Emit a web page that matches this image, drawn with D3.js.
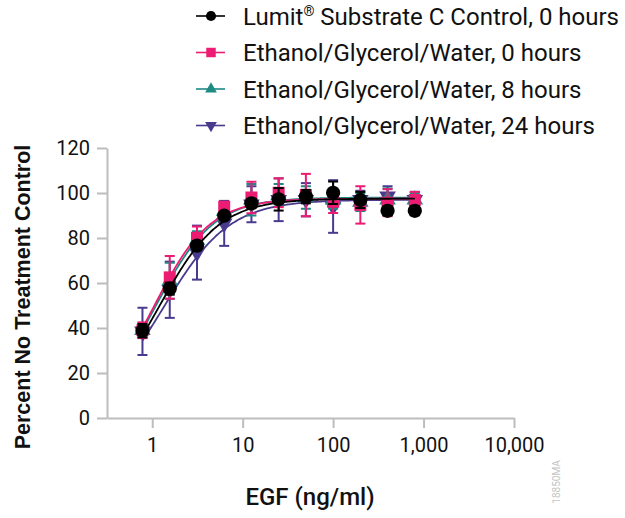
<!DOCTYPE html>
<html>
<head>
<meta charset="utf-8">
<script src="https://cdn.jsdelivr.net/npm/d3@7"></script>
<style>
  body { margin: 0; background: #fff; }
  svg { display: block; }
  .tick text { font-family: Roboto, sans-serif; font-size: 20px; fill: #111; }
  .legend text { font-family: Roboto, sans-serif; font-size: 24px; fill: #111; }
</style>
</head>
<body>
<svg id="chart" width="625" height="518"></svg>
<script>
/**
 * Data.
 */
const conc = [0.78, 1.5625, 3.125, 6.25, 12.5, 25, 50, 100, 200, 400, 800];

const controlMean = [38.8, 57.5, 76.6, 89.9, 95.4, 97.2, 98.4, 100.1, 96.9, 92.1, 92.1];
const controlErr  = [3, 2.7, 2, 1.5, 2, 5, 3, 5, 3.6, 2, 2];

const egw0Mean = [39, 62.5, 80.1, 93.9, 98, 100.1, 99.1, 96.1, 94.7, 95.7, 96.9];
const egw0Err  = [3.5, 9.5, 5, 2, 7, 6.4, 9.4, 5, 8.3, 6, 3.6];

const egw8Mean = [39, 61, 79, 92, 97, 99, 98, 97, 96, 97, 97];
const egw8Err  = [3, 8, 4, 2, 7, 5, 5, 4, 4, 5, 3];

const egw24Mean = [38.5, 57, 73.5, 86.5, 95, 97, 97, 94, 97, 98.5, 97];
const egw24Err  = [10.5, 12.5, 12, 10, 8, 9.5, 7.4, 11.7, 4, 4.5, 3.5];

// 4PL fit parameters: bottom, top, EC50, hill
const controlFit = [2, 97.5, 1.2, 1.3];
const egw0Fit    = [2, 97.5, 1.05, 1.4];
const egw8Fit    = [2, 98, 1.1, 1.35];
const egw24Fit   = [2, 97, 1.35, 1.2];

const xTicks = [1, 10, 100, 1000, 10000];
const yTicks = [0, 20, 40, 60, 80, 100, 120];

const legendLabels = [
    ['Lumit', '®', ' Substrate C Control, 0 hours'],
    ['Ethanol/Glycerol/Water, 0 hours'],
    ['Ethanol/Glycerol/Water, 8 hours'],
    ['Ethanol/Glycerol/Water, 24 hours']
];

/**
 * Series config (drawn bottom to top).
 */
const series = [
    { key: 'egw24', mean: egw24Mean, err: egw24Err, fit: egw24Fit, color: '#4a3a8e', symbol: 'down', legend: 3 },
    { key: 'egw8', mean: egw8Mean, err: egw8Err, fit: egw8Fit, color: '#1d8a84', symbol: 'up', legend: 2 },
    { key: 'egw0', mean: egw0Mean, err: egw0Err, fit: egw0Fit, color: '#ec1c73', symbol: 'square', legend: 1 },
    { key: 'control', mean: controlMean, err: controlErr, fit: controlFit, color: '#000', symbol: 'circle', legend: 0 }
];

const svg = d3.select('#chart');

const x = d3.scaleLog().domain([Math.pow(10, -0.5), 10000]).range([107, 514]);
const y = d3.scaleLinear().domain([0, 120]).range([418, 148]);

/**
 * Axes.
 */
const axisColor = '#bdbdbd';

const yAxis = svg.append('g')
    .attr('transform', 'translate(107,0)')
    .call(d3.axisLeft(y).tickValues(yTicks).tickSize(10).tickSizeOuter(0).tickPadding(7));

const xAxis = svg.append('g')
    .attr('transform', 'translate(0,418)')
    .call(d3.axisBottom(x).tickValues(xTicks).tickFormat(d3.format(',')).tickSize(10).tickSizeOuter(0).tickPadding(10));

[xAxis, yAxis].forEach(g => {
    g.selectAll('.domain, .tick line').attr('stroke', axisColor).attr('stroke-width', 2);
    g.selectAll('text').attr('font-family', null).attr('font-size', null);
});

svg.append('text')
    .attr('transform', 'translate(30,297) rotate(-90)')
    .attr('text-anchor', 'middle')
    .attr('font-family', '"Liberation Sans", Arial, sans-serif')
    .attr('font-weight', 'bold')
    .attr('font-size', 21.5)
    .attr('fill', '#111')
    .text('Percent No Treatment Control');

svg.append('text')
    .attr('x', 310)
    .attr('y', 505)
    .attr('text-anchor', 'middle')
    .attr('font-family', 'Roboto, sans-serif')
    .attr('font-weight', 500)
    .attr('font-size', 24)
    .attr('fill', '#111')
    .text('EGF (ng/ml)');

svg.append('text')
    .attr('transform', 'translate(560,482) rotate(-90)')
    .attr('text-anchor', 'middle')
    .attr('font-family', 'Roboto, sans-serif')
    .attr('font-size', 10)
    .attr('fill', '#c4c4c4')
    .text('18850MA');

/**
 * Marker drawing.
 */
function symbolPath(kind, size) {
    const types = { circle: d3.symbolCircle, square: d3.symbolSquare, up: d3.symbolTriangle, down: d3.symbolTriangle };
    return d3.symbol().type(types[kind]).size(size)();
}

function symbolTransform(kind, cx, cy) {
    return 'translate(' + cx + ',' + cy + ')' + (kind === 'down' ? ' rotate(180)' : '');
}

const fourPL = (p, c) => p[0] + (p[1] - p[0]) / (1 + Math.pow(p[2] / c, p[3]));

const plot = svg.append('g').attr('class', 'plot');
const line = d3.line().x(d => x(d[0])).y(d => y(d[1])).curve(d3.curveBasis);
const fitX = d3.range(0, 201).map(i => Math.pow(10, Math.log10(conc[0]) + i / 200 * (Math.log10(800) - Math.log10(conc[0]))));

series.forEach(s => {
    const g = plot.append('g').attr('class', s.key);

    g.append('path')
        .datum(fitX.map(c => [c, fourPL(s.fit, c)]))
        .attr('d', line)
        .attr('fill', 'none')
        .attr('stroke', s.color)
        .attr('stroke-width', 1.8);

    const pts = conc.map((c, i) => ({ c: c, m: s.mean[i], e: s.err[i] }));

    const bars = g.selectAll('.err').data(pts).enter().append('g').attr('class', 'err')
        .attr('stroke', s.color).attr('stroke-width', 2);
    bars.append('line')
        .attr('x1', d => x(d.c)).attr('x2', d => x(d.c))
        .attr('y1', d => y(d.m - d.e)).attr('y2', d => y(d.m + d.e));
    bars.append('line')
        .attr('x1', d => x(d.c) - 5).attr('x2', d => x(d.c) + 5)
        .attr('y1', d => y(d.m - d.e)).attr('y2', d => y(d.m - d.e));
    bars.append('line')
        .attr('x1', d => x(d.c) - 5).attr('x2', d => x(d.c) + 5)
        .attr('y1', d => y(d.m + d.e)).attr('y2', d => y(d.m + d.e));

    const size = s.symbol === 'circle' ? 160 : s.symbol === 'square' ? 144 : 120;
    g.selectAll('.pt').data(pts).enter().append('path').attr('class', 'pt')
        .attr('d', symbolPath(s.symbol, size))
        .attr('transform', d => symbolTransform(s.symbol, x(d.c), y(d.m)))
        .attr('fill', s.color);
});

/**
 * Legend.
 */
const legend = svg.append('g').attr('class', 'legend');
series.forEach(s => {
    const ly = 16 + s.legend * 36.5;
    const row = legend.append('g');
    row.append('line')
        .attr('x1', 196).attr('x2', 225).attr('y1', ly).attr('y2', ly)
        .attr('stroke', s.color).attr('stroke-width', 1.6);
    const size = s.symbol === 'circle' ? 80 : s.symbol === 'square' ? 90 : 60;
    row.append('path')
        .attr('d', symbolPath(s.symbol, size))
        .attr('transform', symbolTransform(s.symbol, 211, ly))
        .attr('fill', s.color);
    const t = row.append('text')
        .attr('x', 243).attr('y', ly).attr('dy', '0.36em');
    legendLabels[s.legend].forEach((part, i) => {
        const span = t.append('tspan').text(part);
        if (part === '®') span.attr('font-size', 14).attr('dy', -9);
        else if (i === 2) span.attr('dy', 9);
    });
});
</script>
</body>
</html>
